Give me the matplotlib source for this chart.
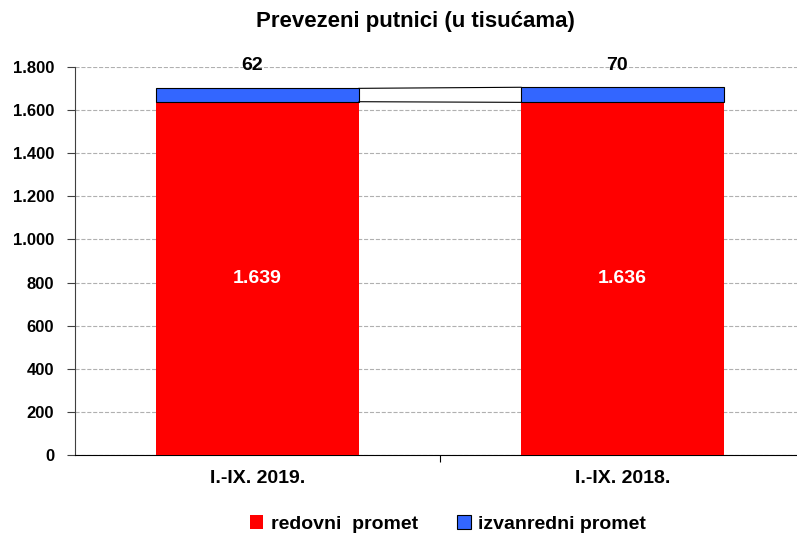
import matplotlib
matplotlib.use("Agg")
import matplotlib.pyplot as plt
from matplotlib.ticker import FuncFormatter

categories = ["I.-IX. 2019.", "I.-IX. 2018."]
redovni = [1639, 1636]
izvanredni = [62, 70]
yticks = [0, 200, 400, 600, 800, 1000, 1200, 1400, 1600, 1800]

plt.rcParams['font.family'] = ['Liberation Sans', 'DejaVu Sans']
plt.rcParams['font.weight'] = 'bold'

fig = plt.figure(figsize=(7.97, 5.35), dpi=100)
ax = fig.add_axes([75/797, 1-455/535, 730/797, 388/535])

x = list(range(len(categories)))
w = 0.556
ax.bar(x, redovni, width=w, color='#FF0000', edgecolor='none', label='redovni  promet', zorder=3)
ax.bar(x, izvanredni, width=w, bottom=redovni, color='#3366FF', edgecolor='black', linewidth=0.8,
       label='izvanredni promet', zorder=3)

# series lines
tops = [r + i for r, i in zip(redovni, izvanredni)]
ax.plot([x[0] + w/2, x[1] - w/2], [redovni[0], redovni[1]], color='black', lw=0.8, zorder=4)
ax.plot([x[0] + w/2, x[1] - w/2], [tops[0], tops[1]], color='black', lw=0.8, zorder=4)

for xi, r, i in zip(x, redovni, izvanredni):
    ax.text(xi, r/2, f"{r/1000:.3f}", ha='center', va='center', color='white', fontsize=14, fontweight='bold', zorder=5)
    ax.text(xi - 0.015, 1805, f"{i}", ha='center', va='center', color='black', fontsize=14, fontweight='bold',
            zorder=5, clip_on=False)

ax.set_xlim(-0.5, 1.5)
ax.set_ylim(0, 1800)
ax.set_yticks(yticks)
ax.yaxis.set_major_formatter(FuncFormatter(lambda v, p: f"{int(v):,}".replace(",", ".")))
ax.set_xticks([0.5])
ax.set_xticklabels([])
ax.tick_params(axis='x', length=5, color='black')
ax.tick_params(axis='y', length=6, color='#404040', labelsize=12, pad=9)
for xi, c in zip(x, categories):
    ax.text(xi, -70, c, ha='center', va='top', fontsize=14, fontweight='bold', transform=ax.transData)

ax.grid(axis='y', color='#b0b0b0', linestyle='--', linewidth=0.8, zorder=0)
ax.spines['top'].set_visible(False)
ax.spines['right'].set_visible(False)
ax.spines['left'].set_color('#404040')
ax.spines['bottom'].set_color('black')

fig.text(415/797, 1-22/535, "Prevezeni putnici (u tisućama)", ha='center', va='center',
         fontsize=16, fontweight='bold')

leg = fig.legend(loc='center', bbox_to_anchor=(448/797, 1-524/535), ncol=2, frameon=False, fontsize=14,
                 handlelength=0.7, handleheight=0.7, columnspacing=2.0, handletextpad=0.4)

fig.savefig("out.png", dpi=100)
